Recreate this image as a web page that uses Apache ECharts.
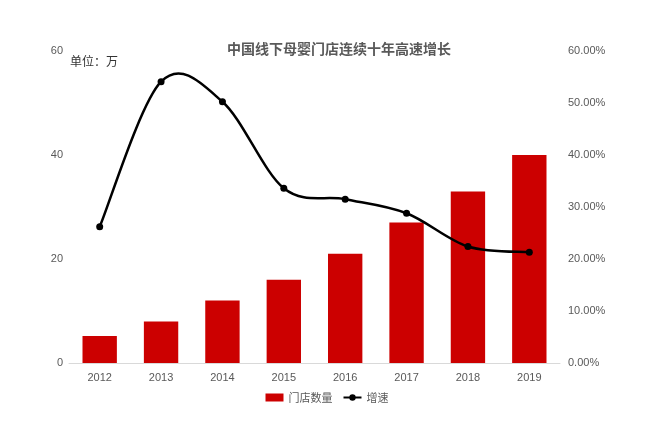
<!DOCTYPE html>
<html><head><meta charset="utf-8">
<script src="https://cdn.jsdelivr.net/npm/echarts@6/dist/echarts.min.js"></script>
<style>html,body{margin:0;padding:0;background:#fff}#c{width:654px;height:436px}</style>
</head><body><div id="c"></div>
<script>
const categories = ['2012','2013','2014','2015','2016','2017','2018','2019'];
const storeCount = [5.2, 8, 12, 16, 21, 27, 33, 40];
const growthRate = [26.2, 54.1, 50.25, 33.6, 31.5, 28.8, 22.4, 21.3];
const leftTicks = [0, 20, 40, 60];
const rightTicks = [0, 10, 20, 30, 40, 50, 60];

const chart = echarts.init(document.getElementById('c'));
const font = '"Liberation Sans","Noto Sans CJK SC",sans-serif';
const cjk = '"Noto Sans CJK SC",sans-serif';

// Excel-like (Catmull-Rom) smoothed segment between point i and i+1
function renderSegment(params, api) {
  const i = params.dataIndex;
  const n = growthRate.length;
  if (i >= n - 1) return null;
  const p = k => api.coord([Math.max(0, Math.min(n - 1, k)), growthRate[Math.max(0, Math.min(n - 1, k))]]);
  const p0 = p(i - 1), p1 = p(i), p2 = p(i + 1), p3 = p(i + 2);
  const t = 1 / 6;
  const c1 = [p1[0] + (p2[0] - p0[0]) * t, p1[1] + (p2[1] - p0[1]) * t];
  const c2 = [p2[0] - (p3[0] - p1[0]) * t, p2[1] - (p3[1] - p1[1]) * t];
  return {
    type: 'bezierCurve',
    shape: {x1: p1[0], y1: p1[1], cpx1: c1[0], cpy1: c1[1], cpx2: c2[0], cpy2: c2[1], x2: p2[0], y2: p2[1]},
    style: {stroke: '#000', lineWidth: 2.5, fill: null}
  };
}

chart.setOption({
  animation: false,
  textStyle: {fontFamily: font},
  title: {
    text: '中国线下母婴门店连续十年高速增长',
    left: 334, top: 37, textAlign: 'center',
    textStyle: {fontSize: 14, fontWeight: 'bold', color: '#595959', fontFamily: cjk}
  },
  graphic: [{
    type: 'text', left: 70, top: 55,
    style: {text: '单位：万', fontSize: 12, fill: '#333', fontFamily: cjk}
  }],
  legend: {
    bottom: 28, left: 'center', itemGap: 10, itemWidth: 18, itemHeight: 8,
    textStyle: {fontSize: 11, color: '#595959', fontFamily: cjk},
    data: [
      {name: '门店数量', icon: 'rect'},
      {name: '增速', lineStyle: {opacity: 1, color: '#000', width: 2}}
    ]
  },
  grid: {left: 69, right: 94, top: 51, bottom: 73},
  xAxis: {
    type: 'category', data: categories,
    axisLine: {lineStyle: {color: '#d9d9d9'}},
    axisTick: {show: false},
    axisLabel: {color: '#595959', fontSize: 11, margin: 9}
  },
  yAxis: [{
    type: 'value', min: 0, max: 60, interval: 20,
    splitLine: {show: false}, axisLine: {show: false}, axisTick: {show: false},
    axisLabel: {color: '#595959', fontSize: 11, margin: 6, formatter: v => leftTicks.includes(v) ? String(v) : ''}
  }, {
    type: 'value', min: 0, max: 60, interval: 10,
    splitLine: {show: false}, axisLine: {show: false}, axisTick: {show: false},
    axisLabel: {color: '#595959', fontSize: 11, margin: 8, formatter: v => rightTicks.includes(v) ? v.toFixed(2) + '%' : ''}
  }],
  series: [{
    name: '门店数量', type: 'bar', data: storeCount, barWidth: '56%',
    itemStyle: {color: '#cc0000'}
  }, {
    name: '增速curve', type: 'custom', yAxisIndex: 1, data: growthRate.map((v, i) => [i, v]),
    renderItem: renderSegment, z: 3, silent: true
  }, {
    name: '增速', type: 'line', yAxisIndex: 1, data: growthRate,
    symbol: 'circle', symbolSize: 7, z: 4,
    lineStyle: {color: '#000', width: 2, opacity: 0}, itemStyle: {color: '#000'}
  }]
});
</script></body></html>
